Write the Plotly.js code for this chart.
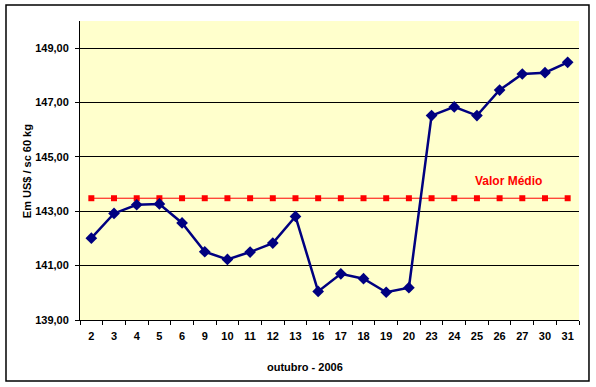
<!DOCTYPE html>
<html>
<head>
<meta charset="utf-8">
<script src="https://cdn.plot.ly/plotly-3.0.1.min.js"></script>
<style>html,body{margin:0;padding:0;background:#fff;}#chart{width:596px;height:387px;}</style>
</head>
<body>
<div id="chart"></div>
<script>
const days = ["2","3","4","5","6","9","10","11","12","13","16","17","18","19","20","23","24","25","26","27","30","31"];
const prices = [142.01,142.92,143.24,143.27,142.57,141.51,141.23,141.50,141.83,142.81,140.05,140.70,140.52,140.02,140.19,146.52,146.84,146.52,147.46,148.05,148.10,148.48];
const meanValue = [143.48,143.48,143.48,143.48,143.48,143.48,143.48,143.48,143.48,143.48,143.48,143.48,143.48,143.48,143.48,143.48,143.48,143.48,143.48,143.48,143.48,143.48];
const yTicks = [139,141,143,145,147,149];

const font = {family: "Liberation Sans, Arial, sans-serif", size: 11, color: "#000", weight: 700};

const traces = [
  {
    x: days, y: meanValue, type: "scatter", mode: "lines+markers",
    line: {color: "#FF0000", width: 1},
    marker: {symbol: "square", size: 6, color: "#FF0000"},
    hoverinfo: "skip"
  },
  {
    x: days, y: prices, type: "scatter", mode: "lines+markers",
    line: {color: "#000080", width: 2.5},
    marker: {symbol: "diamond", size: 9, color: "#000080"}
  }
];

const layout = {
  width: 596, height: 387,
  margin: {l: 80, r: 17, t: 21, b: 67},
  paper_bgcolor: "#FFFFFF",
  plot_bgcolor: "#FFFFCC",
  separators: ",.",
  showlegend: false,
  font: font,
  xaxis: {
    type: "category", categoryorder: "array", categoryarray: days,
    showgrid: false, zeroline: false,
    showline: true, linecolor: "#000", linewidth: 1,
    ticks: "outside", ticklen: 4, tickcolor: "#000", tickwidth: 1,
    tickson: "boundaries",
    tickfont: font,
    ticklabelstandoff: 6,
    range: [-0.5, days.length - 0.5]
  },
  yaxis: {
    range: [139, 150],
    tickvals: yTicks, tickformat: ".2f",
    showgrid: true, gridcolor: "#000", gridwidth: 1,
    zeroline: false,
    showline: true, linecolor: "#000", linewidth: 1,
    ticks: "outside", ticklen: 4, tickcolor: "#000",
    tickfont: font,
    ticklabelstandoff: 4
  },
  annotations: [
    {text: "Valor Médio", xref: "paper", yref: "y", x: 0.858, y: 144.12,
     xanchor: "center", yanchor: "middle",
     showarrow: false, font: {family: font.family, size: 12, color: "#FF0000", weight: 700}},
    {text: "outubro - 2006", xref: "paper", yref: "paper", x: 0.451, y: -0.157,
     xanchor: "center", yanchor: "middle",
     showarrow: false, font: font},
    {text: "Em US$ / sc 60 kg", xref: "paper", yref: "paper", x: -0.106, y: 0.498,
     xanchor: "center", yanchor: "middle",
     textangle: -90, showarrow: false, font: font}
  ],
  shapes: [
    {type: "rect", xref: "paper", yref: "paper", x0: -0.1483, x1: 1.0200, y0: -0.2040, y1: 1.0535,
     line: {color: "#000", width: 1.5}, fillcolor: "rgba(0,0,0,0)", layer: "above"}
  ]
};

Plotly.newPlot("chart", traces, layout, {displayModeBar: false, staticPlot: true});
</script>
</body>
</html>
